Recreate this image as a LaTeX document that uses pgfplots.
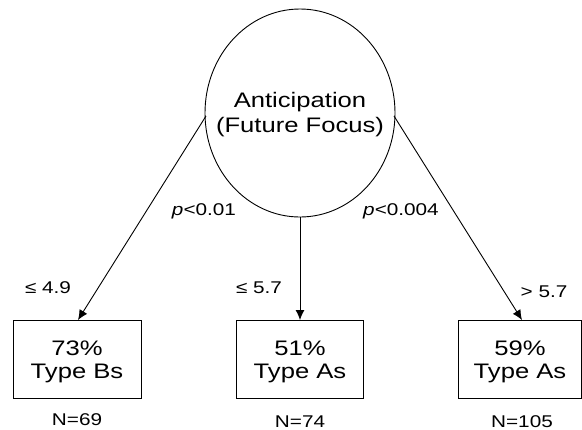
\documentclass[border=0pt]{standalone}
\usepackage{fontspec}
\setmainfont{Liberation Sans}[FakeStretch=1.22]
\usepackage{pgfplots}
\pgfplotsset{compat=1.18}
\usetikzlibrary{arrows.meta}
\tikzset{txt/.style={inner sep=0pt, anchor=base}}
\newcommand{\bigf}{\fontsize{21bp}{24bp}\selectfont}
\newcommand{\smf}{\fontsize{17bp}{20bp}\selectfont}
\begin{document}
\begin{tikzpicture}
\begin{axis}[
  name=main,
  width=582bp, height=430bp, scale only axis,
  xmin=0, xmax=582, ymin=0, ymax=430, y dir=reverse,
  axis lines=none, ticks=none, clip=false,
]
% ellipse (root node)
\draw[line width=0.9bp] (axis cs:300,113) ellipse [x radius=95bp, y radius=104bp];
% arrows
\addplot[black, line width=0.9bp, -{Latex[length=10bp,width=9bp]}] coordinates {(206,116) (78,320)};
\addplot[black, line width=0.9bp, -{Latex[length=10bp,width=9bp]}] coordinates {(300,217) (300,320)};
\addplot[black, line width=0.9bp, -{Latex[length=10bp,width=9bp]}] coordinates {(394,116) (522,320)};
% boxes
\addplot[black, line width=0.9bp] coordinates {(13,320) (141,320) (141,398) (13,398) (13,320)};
\addplot[black, line width=0.9bp] coordinates {(236,320) (363,320) (363,398) (236,398) (236,320)};
\addplot[black, line width=0.9bp] coordinates {(458,320) (581,320) (581,398) (458,398) (458,320)};
% texts
\node[txt] at (axis cs:300,107) {\bigf Anticipation};
\node[txt] at (axis cs:300,132) {\bigf (Future Focus)};
\node[txt] at (axis cs:77,355) {\bigf 73\%};
\node[txt] at (axis cs:77,378) {\bigf Type Bs};
\node[txt] at (axis cs:300,355) {\bigf 51\%};
\node[txt] at (axis cs:300,378) {\bigf Type As};
\node[txt] at (axis cs:520,355) {\bigf 59\%};
\node[txt] at (axis cs:520,378) {\bigf Type As};
\node[txt] at (axis cs:77,425) {\smf N=69};
\node[txt] at (axis cs:300,427.5) {\smf N=74};
\node[txt] at (axis cs:522,427) {\smf N=105};
\node[txt] at (axis cs:48,293) {\smf ≤ 4.9};
\node[txt] at (axis cs:259,293) {\smf ≤ 5.7};
\node[txt] at (axis cs:544,297) {\smf > 5.7};
\node[txt] at (axis cs:204,215) {\smf \textit{p}<0.01};
\node[txt] at (axis cs:401,215) {\smf \textit{p}<0.004};
\end{axis}
\pgfresetboundingbox
\useasboundingbox (main.south west) rectangle (main.north east);
\end{tikzpicture}
\end{document}
